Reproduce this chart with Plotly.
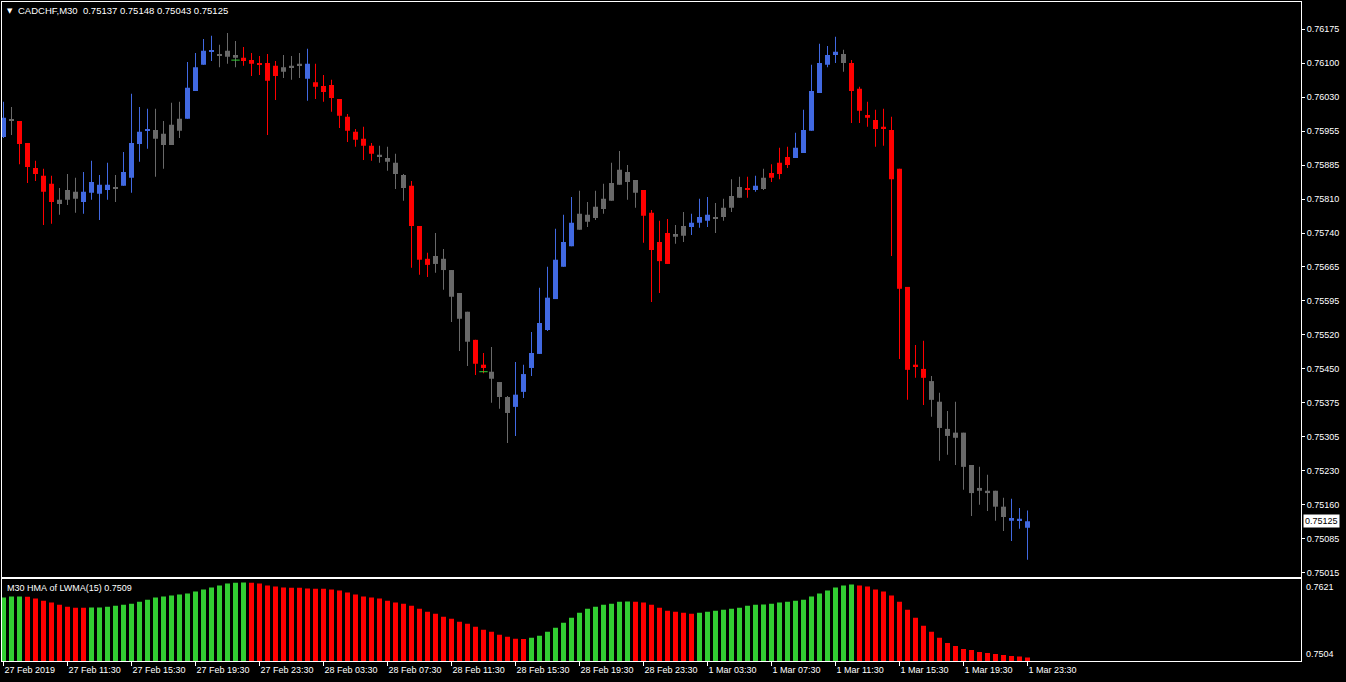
import plotly.graph_objects as go

# ---------------- data ----------------
opens = [0.75945, 0.75983, 0.75979, 0.75932, 0.75879, 0.75862, 0.75845, 0.75802, 0.75811, 0.75828,
         0.75806, 0.75826, 0.75824, 0.75832, 0.75838, 0.75841, 0.75858, 0.75930, 0.75958, 0.75960,
         0.75952, 0.75928, 0.75958, 0.75984, 0.76043, 0.76099, 0.76127, 0.76120, 0.76116, 0.76120,
         0.76114, 0.76109, 0.76103, 0.76103, 0.76097, 0.76084, 0.76092, 0.76097, 0.76069, 0.76062,
         0.76054, 0.76056, 0.76026, 0.75988, 0.75956, 0.75941, 0.75926, 0.75907, 0.75900, 0.75890,
         0.75864, 0.75841, 0.75755, 0.75685, 0.75674, 0.75685, 0.75661, 0.75612, 0.75572, 0.75512,
         0.75459, 0.75444, 0.75422, 0.75390, 0.75369, 0.75401, 0.75452, 0.75482, 0.75533, 0.75599,
         0.75668, 0.75712, 0.75747, 0.75779, 0.75772, 0.75791, 0.75809, 0.75843, 0.75870, 0.75853,
         0.75832, 0.75783, 0.75721, 0.75740, 0.75732, 0.75734, 0.75753, 0.75762, 0.75766, 0.75774,
         0.75774, 0.75794, 0.75815, 0.75836, 0.75832, 0.75834, 0.75868, 0.75890, 0.75902, 0.75900,
         0.75911, 0.75958, 0.76039, 0.76099, 0.76120, 0.76122, 0.76103, 0.76048, 0.75992, 0.75981,
         0.75967, 0.75960, 0.75877, 0.75625, 0.75459, 0.75450, 0.75424, 0.75380, 0.75322, 0.75314,
         0.75314, 0.75245, 0.75196, 0.75190, 0.75190, 0.75156, 0.75126, 0.75126, 0.75111]
highs = [0.76020, 0.76009, 0.75979, 0.75932, 0.75894, 0.75877, 0.75862, 0.75836, 0.75866, 0.75858,
         0.75870, 0.75894, 0.75864, 0.75890, 0.75864, 0.75913, 0.76037, 0.76009, 0.76005, 0.76005,
         0.75979, 0.76018, 0.76020, 0.76105, 0.76124, 0.76154, 0.76161, 0.76142, 0.76167, 0.76150,
         0.76137, 0.76124, 0.76118, 0.76122, 0.76107, 0.76120, 0.76118, 0.76124, 0.76133, 0.76101,
         0.76077, 0.76067, 0.76026, 0.75994, 0.75962, 0.75967, 0.75932, 0.75926, 0.75924, 0.75909,
         0.75866, 0.75851, 0.75755, 0.75698, 0.75740, 0.75706, 0.75661, 0.75612, 0.75572, 0.75512,
         0.75484, 0.75497, 0.75422, 0.75392, 0.75465, 0.75459, 0.75529, 0.75623, 0.75668, 0.75749,
         0.75779, 0.75817, 0.75830, 0.75806, 0.75830, 0.75845, 0.75890, 0.75915, 0.75885, 0.75853,
         0.75832, 0.75789, 0.75766, 0.75770, 0.75757, 0.75785, 0.75781, 0.75813, 0.75817, 0.75804,
         0.75813, 0.75855, 0.75860, 0.75860, 0.75862, 0.75877, 0.75887, 0.75922, 0.75924, 0.75954,
         0.76003, 0.76099, 0.76144, 0.76139, 0.76159, 0.76131, 0.76109, 0.76052, 0.76020, 0.76003,
         0.76005, 0.75988, 0.75877, 0.75625, 0.75501, 0.75510, 0.75435, 0.75399, 0.75360, 0.75380,
         0.75314, 0.75245, 0.75241, 0.75224, 0.75190, 0.75175, 0.75173, 0.75153, 0.75148]
lows = [0.75943, 0.75949, 0.75887, 0.75847, 0.75851, 0.75757, 0.75760, 0.75779, 0.75800, 0.75783,
        0.75781, 0.75811, 0.75768, 0.75811, 0.75806, 0.75841, 0.75826, 0.75892, 0.75920, 0.75860,
        0.75877, 0.75928, 0.75943, 0.75984, 0.76043, 0.76099, 0.76107, 0.76094, 0.76101, 0.76094,
        0.76097, 0.76075, 0.76077, 0.75949, 0.76024, 0.76071, 0.76067, 0.76071, 0.76022, 0.76026,
        0.76020, 0.75999, 0.75964, 0.75934, 0.75924, 0.75896, 0.75894, 0.75890, 0.75873, 0.75834,
        0.75809, 0.75666, 0.75651, 0.75646, 0.75655, 0.75619, 0.75550, 0.75488, 0.75456, 0.75437,
        0.75441, 0.75378, 0.75365, 0.75292, 0.75307, 0.75388, 0.75435, 0.75482, 0.75531, 0.75599,
        0.75668, 0.75712, 0.75747, 0.75753, 0.75768, 0.75781, 0.75809, 0.75843, 0.75811, 0.75794,
        0.75719, 0.75593, 0.75612, 0.75674, 0.75717, 0.75721, 0.75736, 0.75751, 0.75753, 0.75740,
        0.75766, 0.75785, 0.75815, 0.75815, 0.75828, 0.75832, 0.75849, 0.75855, 0.75879, 0.75900,
        0.75911, 0.75958, 0.76039, 0.76094, 0.76103, 0.76084, 0.75975, 0.75975, 0.75967, 0.75924,
        0.75926, 0.75691, 0.75471, 0.75384, 0.75431, 0.75373, 0.75348, 0.75254, 0.75267, 0.75245,
        0.75192, 0.75136, 0.75160, 0.75147, 0.75126, 0.75104, 0.75083, 0.75109, 0.75043]
closes = [0.75986, 0.75981, 0.75930, 0.75881, 0.75866, 0.75828, 0.75806, 0.75811, 0.75832, 0.75813,
          0.75828, 0.75849, 0.75843, 0.75843, 0.75834, 0.75870, 0.75932, 0.75956, 0.75962, 0.75941,
          0.75928, 0.75971, 0.75984, 0.76050, 0.76094, 0.76129, 0.76129, 0.76118, 0.76129, 0.76114,
          0.76107, 0.76101, 0.76099, 0.76065, 0.76075, 0.76094, 0.76097, 0.76101, 0.76101, 0.76052,
          0.76041, 0.76028, 0.75990, 0.75958, 0.75939, 0.75926, 0.75909, 0.75902, 0.75892, 0.75866,
          0.75836, 0.75755, 0.75683, 0.75672, 0.75691, 0.75661, 0.75604, 0.75557, 0.75508, 0.75461,
          0.75452, 0.75429, 0.75390, 0.75356, 0.75395, 0.75439, 0.75484, 0.75548, 0.75602, 0.75683,
          0.75721, 0.75762, 0.75781, 0.75764, 0.75796, 0.75813, 0.75847, 0.75875, 0.75849, 0.75826,
          0.75777, 0.75704, 0.75680, 0.75674, 0.75738, 0.75755, 0.75762, 0.75774, 0.75779, 0.75770,
          0.75794, 0.75819, 0.75838, 0.75832, 0.75841, 0.75858, 0.75858, 0.75866, 0.75885, 0.75922,
          0.75960, 0.76043, 0.76103, 0.76120, 0.76127, 0.76103, 0.76043, 0.76001, 0.75986, 0.75962,
          0.75962, 0.75855, 0.75621, 0.75448, 0.75456, 0.75431, 0.75384, 0.75324, 0.75307, 0.75303,
          0.75241, 0.75185, 0.75190, 0.75185, 0.75156, 0.75134, 0.75132, 0.75130, 0.75125]
# candle colour as painted on the chart: B = blue, R = red, G = grey
tones = list("BGRRRRRGGG" "BBBBGBBBBG" "GGGBBBBGGG" "RRRRRGGGBR" "RRRRRRRGGG"
             "GRRRGGGGGR" "RGGGBBBBBB" "BBGGGGGGGG" "RRRRGGBBBG" "GGGRBGRRRB"
             "BBBBBGRRRR" "RRRRRRGGGG" "GGGGGGBBB")
# small green marks drawn on two bars
mark_idx = [29, 60]
mark_val = [0.76109, 0.75444]

# HMA of LWMA(15) histogram (lower pane)
hma = [0.75939, 0.75953, 0.75955, 0.75950, 0.75925, 0.75896, 0.75868, 0.75839, 0.75811, 0.75796,
       0.75794, 0.75797, 0.75799, 0.75811, 0.75825, 0.75839, 0.75853, 0.75882, 0.75910, 0.75939,
       0.75953, 0.75968, 0.75982, 0.75996, 0.76025, 0.76053, 0.76082, 0.76110, 0.76139, 0.76150,
       0.76153, 0.76151, 0.76139, 0.76110, 0.76096, 0.76082, 0.76080, 0.76078, 0.76067, 0.76065,
       0.76063, 0.76053, 0.76039, 0.76010, 0.75982, 0.75953, 0.75939, 0.75925, 0.75896, 0.75868,
       0.75853, 0.75825, 0.75782, 0.75739, 0.75711, 0.75668, 0.75639, 0.75597, 0.75568, 0.75525,
       0.75482, 0.75454, 0.75411, 0.75383, 0.75354, 0.75352, 0.75368, 0.75397, 0.75454, 0.75511,
       0.75582, 0.75654, 0.75725, 0.75782, 0.75811, 0.75839, 0.75853, 0.75882, 0.75884, 0.75882,
       0.75868, 0.75839, 0.75796, 0.75754, 0.75739, 0.75725, 0.75711, 0.75725, 0.75739, 0.75754,
       0.75768, 0.75782, 0.75796, 0.75825, 0.75839, 0.75841, 0.75853, 0.75868, 0.75882, 0.75896,
       0.75910, 0.75953, 0.75996, 0.76039, 0.76082, 0.76110, 0.76125, 0.76110, 0.76096, 0.76053,
       0.76025, 0.75968, 0.75882, 0.75768, 0.75654, 0.75540, 0.75454, 0.75368, 0.75297, 0.75254,
       0.75211, 0.75197, 0.75168, 0.75154, 0.75140, 0.75126, 0.75111, 0.75105, 0.75090]

time_labels = ["27 Feb 2019", "27 Feb 11:30", "27 Feb 15:30", "27 Feb 19:30", "27 Feb 23:30",
               "28 Feb 03:30", "28 Feb 07:30", "28 Feb 11:30", "28 Feb 15:30", "28 Feb 19:30",
               "28 Feb 23:30", "1 Mar 03:30", "1 Mar 07:30", "1 Mar 11:30", "1 Mar 15:30",
               "1 Mar 19:30", "1 Mar 23:30"]
price_ticks = [0.76175, 0.761025, 0.7603, 0.759575, 0.75885, 0.758125, 0.7574, 0.756675, 0.75595,
               0.755225, 0.7545, 0.753775, 0.75305, 0.752325, 0.7516, 0.750875, 0.75015]
price_labels = ["0.76175", "0.76100", "0.76030", "0.75955", "0.75885", "0.75810", "0.75740",
                "0.75665", "0.75595", "0.75520", "0.75450", "0.75375", "0.75305", "0.75230",
                "0.75160", "0.75085", "0.75015"]
hma_scale = [0.7621, 0.7504]
title_text = "CADCHF,M30  0.75137 0.75148 0.75043 0.75125"

# ---------------- styling ----------------
TONE = {"B": "#4169E1", "R": "#FF0000", "G": "#696969"}
UP, DOWN = "#32CD32", "#FF0000"
FONT = "Liberation Sans"
n = len(opens)
idx = list(range(n))
cols = [TONE[t] for t in tones]
min_body = 0.0000214
bases = [min(o, c) for o, c in zip(opens, closes)]
bodies = [max(abs(c - o), min_body) for o, c in zip(opens, closes)]
hma_cols = [UP if (i == 0 or hma[i] > hma[i - 1]) else DOWN for i in range(n)]

fig = go.Figure()
fig.add_trace(go.Bar(x=idx, y=[h - l for h, l in zip(highs, lows)], base=lows, width=0.125,
                     marker=dict(color=cols, line=dict(width=0)), xaxis="x2", yaxis="y2",
                     hoverinfo="skip"))
fig.add_trace(go.Bar(x=idx, y=bodies, base=bases, width=0.625,
                     marker=dict(color=cols, line=dict(width=0)), xaxis="x2", yaxis="y2",
                     hoverinfo="skip"))
fig.add_trace(go.Scatter(x=mark_idx, y=mark_val, mode="markers", xaxis="x2", yaxis="y2",
                         marker=dict(symbol="line-ew", size=6, line=dict(color=UP, width=1)),
                         hoverinfo="skip"))
fig.add_trace(go.Bar(x=idx, y=hma, width=0.625, marker=dict(color=hma_cols, line=dict(width=0)),
                     xaxis="x", yaxis="y", hoverinfo="skip"))

W, H = 1346, 682
L, R, T, B = 2, 45, 2, 21
ph = H - T - B
main_bottom_px, ind_top_px = 576.5, 578.5
main_dom = [(H - B - main_bottom_px) / ph, 1]
ind_dom = [0, (H - B - ind_top_px) / ph]
xr = [-0.1875, 162.1875]

axis_common = dict(showgrid=False, zeroline=False, showline=True, linecolor="white",
                   linewidth=1, mirror=True, automargin=False)
fig.update_layout(
    width=W, height=H, margin=dict(l=L, r=R, t=T, b=B, autoexpand=False),
    paper_bgcolor="black", plot_bgcolor="black", showlegend=False, barmode="overlay",
    xaxis=dict(domain=[0, 1], anchor="y", range=xr, tickmode="array",
               tickvals=list(range(0, n, 8)), ticktext=time_labels, ticks="outside",
               ticklen=4, tickcolor="white", ticklabelposition="outside right",
               tickfont=dict(family=FONT, size=9, color="white"), **axis_common),
    xaxis2=dict(domain=[0, 1], anchor="y2", matches="x", showticklabels=False, ticks="",
                **axis_common),
    yaxis=dict(domain=ind_dom, anchor="x", range=[hma_scale[1], hma_scale[0]], side="right",
               showticklabels=False, ticks="", **axis_common),
    yaxis2=dict(domain=main_dom, anchor="x2", range=[0.75007, 0.76233], side="right",
                tickmode="array", tickvals=price_ticks, ticktext=price_labels,
                ticks="outside", ticklen=3, tickcolor="white",
                tickfont=dict(family=FONT, size=9, color="white"), **axis_common),
)

ann_font = dict(family=FONT, size=9, color="white")
fig.add_annotation(xref="paper", yref="paper", x=0, y=1, xanchor="left", yanchor="top",
                   xshift=3, yshift=-3, text="▼", showarrow=False,
                   font=dict(family="DejaVu Sans", size=7, color="white"))
fig.add_annotation(xref="paper", yref="paper", x=0, y=1, xanchor="left", yanchor="top",
                   xshift=14, yshift=-1, text=title_text.replace(" ", "\u00a0"),
                   showarrow=False, font=dict(family=FONT, size=9.5, color="white"))
fig.add_annotation(xref="paper", yref="paper", x=0, y=ind_dom[1], xanchor="left", yanchor="top",
                   xshift=3, yshift=-2,
                   text=f"M30 HMA of LWMA(15) {hma[-1]:.4f}".replace(" ", "\u00a0"),
                   showarrow=False, font=ann_font)
fig.add_annotation(xref="paper", yref="y2", x=1, y=closes[-1], xanchor="left", yanchor="middle",
                   xshift=2, text=f"{closes[-1]:.5f}", showarrow=False, bgcolor="white",
                   borderpad=1, font=dict(family=FONT, size=9, color="black"))
fig.add_annotation(xref="paper", yref="y", x=1, y=hma_scale[0], xanchor="left", yanchor="top",
                   xshift=3, yshift=-1, text=f"{hma_scale[0]:.4f}", showarrow=False, font=ann_font)
fig.add_annotation(xref="paper", yref="y", x=1, y=hma_scale[1], xanchor="left", yanchor="bottom",
                   xshift=3, yshift=0, text=f"{hma_scale[1]:.4f}", showarrow=False, font=ann_font)

fig.write_html("out.html", config={"displayModeBar": False},
               post_script="document.body.style.margin='0';")
